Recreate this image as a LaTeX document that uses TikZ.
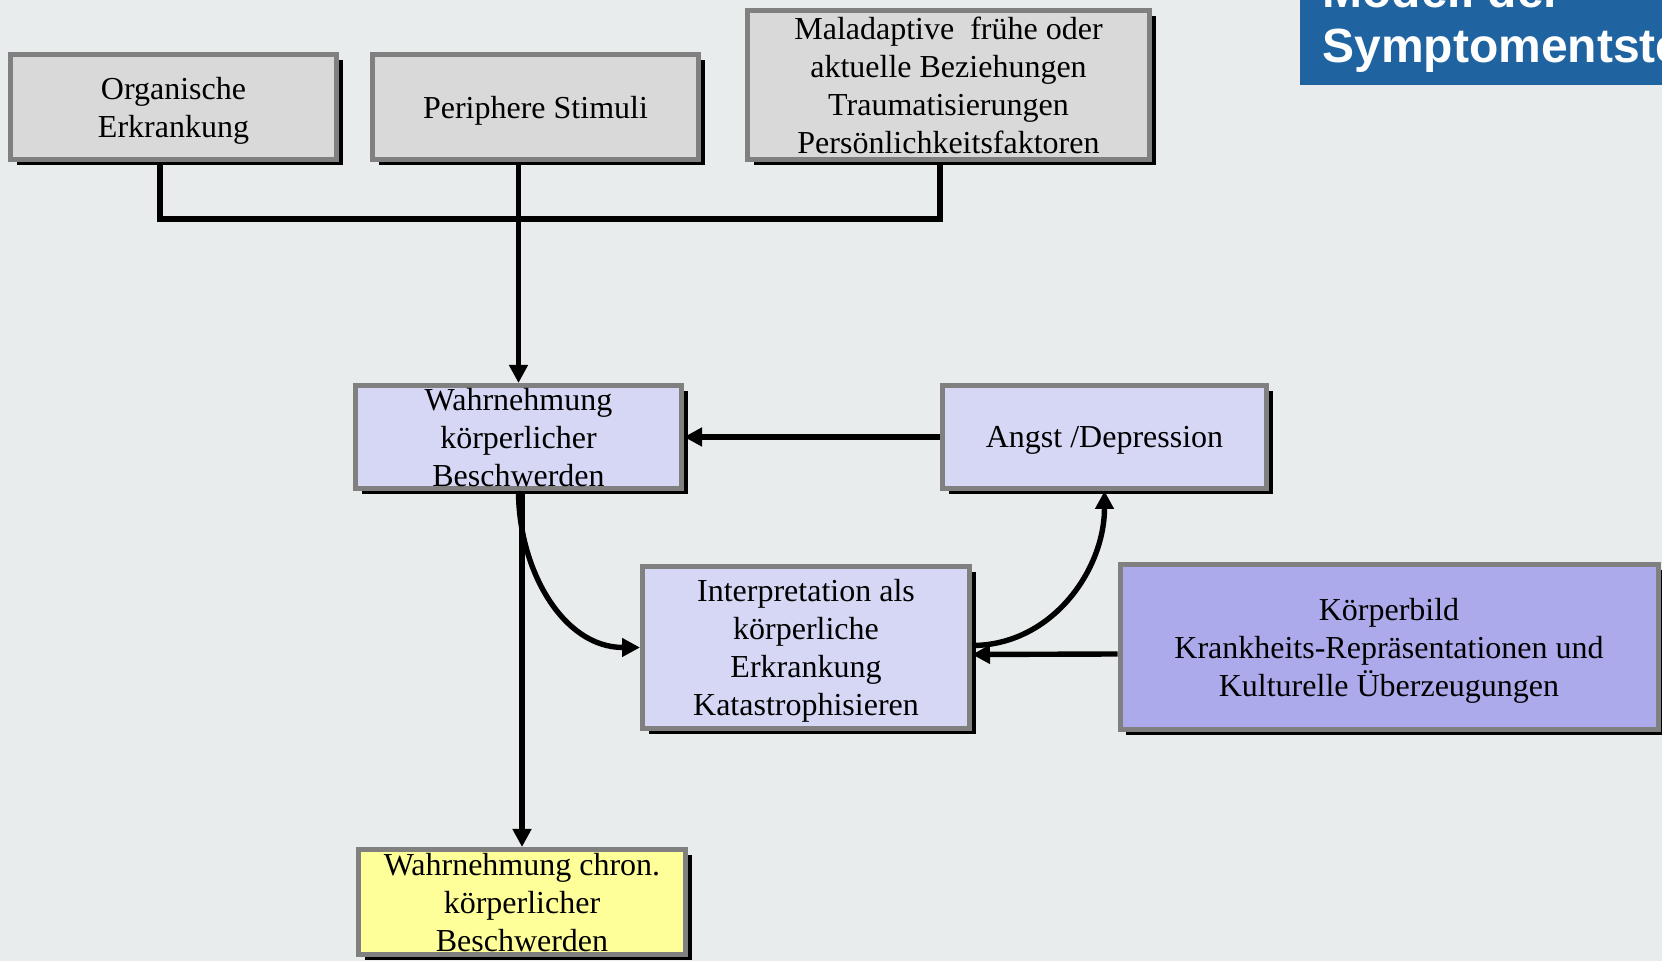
\documentclass[tikz,border=0pt]{standalone}
\usepackage{fontspec}
\setmainfont{Liberation Serif}
\newfontfamily\titlefont{Liberation Sans}
\usetikzlibrary{arrows.meta,shadows}
\definecolor{bg}{RGB}{232,236,237}
\definecolor{greyfill}{RGB}{217,217,217}
\definecolor{boxborder}{RGB}{128,128,128}
\definecolor{lav}{RGB}{214,214,245}
\definecolor{lavdark}{RGB}{173,170,235}
\definecolor{yel}{RGB}{255,255,153}
\definecolor{titleblue}{RGB}{31,100,160}
\begin{document}
\begin{tikzpicture}[x=0.5pt,y=-0.5pt,
  box/.style={draw=boxborder,line width=2.5pt,align=center,inner sep=0pt,
    text depth=0pt,
    font=\fontsize{16}{19}\selectfont,
    drop shadow={shadow xshift=3pt,shadow yshift=-3pt,fill=black,opacity=1}},
  conn/.style={line width=2.7pt,draw=black},
  arr/.style={conn,-{Triangle[length=9pt,width=9pt]}},
  titletext/.style={text=white,font=\titlefont\bfseries\fontsize{24}{28}\selectfont,inner sep=0pt,anchor=base west}]
\useasboundingbox (0,0) rectangle (1662,961);
\clip (0,0) rectangle (1662,961);
\fill[bg] (0,0) rectangle (1662,961);
% title
\fill[titleblue] (1300,-10) rectangle (1700,85);
\node[titletext] (t1) at (1322,8) {Modell der};
\node[titletext] (t2) at (1322,63) {Symptomentstehung};
% boxes
\node[box,fill=greyfill,minimum width=163pt,minimum height=52.5pt] (org) at (173.5,107) {Organische\\Erkrankung};
\node[box,fill=greyfill,minimum width=163pt,minimum height=52.5pt] (per) at (535.5,107) {Periphere Stimuli};
\node[box,fill=greyfill,minimum width=201pt,minimum height=74.5pt] (mal) at (948.5,85) {Maladaptive~ frühe oder\\aktuelle Beziehungen\\Traumatisierungen\\Persönlichkeitsfaktoren};
\node[box,fill=lav,minimum width=163pt,minimum height=51.5pt] (wahr) at (518.5,437) {Wahrnehmung\\körperlicher\\Beschwerden};
\node[box,fill=lav,minimum width=162pt,minimum height=51.5pt] (angst) at (1104.5,437) {Angst /Depression};
\node[box,fill=lav,minimum width=163.5pt,minimum height=81pt] (interp) at (806,647.5) {Interpretation als\\körperliche\\Erkrankung\\Katastrophisieren};
\node[box,fill=lavdark,minimum width=269pt,minimum height=82.5pt] (kb) at (1389,647) {Körperbild\\Krankheits-Repräsentationen und\\Kulturelle Überzeugungen};
\node[box,fill=yel,minimum width=163.5pt,minimum height=52.5pt] (chron) at (522,902) {Wahrnehmung chron.\\körperlicher\\Beschwerden};
% connectors
\coordinate (bus1) at (160,219);
\coordinate (bus2) at (940,219);
\draw[conn] (org.south -| bus1) -- (bus1) -- (bus2) -- (mal.south -| bus2);
\draw[arr] (per.south -| wahr.north) -- (wahr.north);
\draw[arr] (angst.west) -- (wahr.east);
\draw[arr] (wahr.south -| chron.north) -- (chron.north);
\draw[arr] (wahr.south) to[out=-90,in=180] (interp.west);
\draw[arr] ([yshift=1pt]interp.east) to[out=0,in=-90] (angst.south);
\draw[arr] ([yshift=-3.5pt]kb.west) -- ([yshift=-3.5pt]interp.east);
\end{tikzpicture}
\end{document}
